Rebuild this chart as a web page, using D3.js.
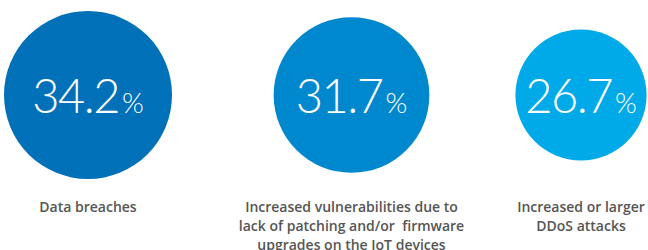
<!DOCTYPE html>
<html><head><meta charset="utf-8">
<script src="https://cdn.jsdelivr.net/npm/d3@7"></script>
<style>body{margin:0;background:#fff}svg{display:block}</style>
</head><body>
<svg id="c" width="648" height="250"></svg>
<script>
const categories = ["Data breaches", "Increased vulnerabilities due to|lack of patching and/or  firmware|upgrades on the IoT devices", "Increased or larger|DDoS attacks"];
const values = [34.2, 31.7, 26.7];
const colors = ["#0070b8", "#0088ce", "#00aae8"];

const svg = d3.select("#c");
const xs = [88, 351.5, 581];
const r = d3.scaleLinear().domain([0, 34.2]).range([0, 84]);
const cy = 95;

const g = svg.selectAll("g.item").data(values).join("g").attr("class","item")
  .attr("transform", (d,i) => `translate(${xs[i]},0)`);

g.append("circle").attr("cx",0).attr("cy",cy).attr("r", d => r(d)).attr("fill", (d,i)=>colors[i]);

const t = g.append("text").attr("y", cy+18).attr("text-anchor","middle")
  .attr("fill","#fff").style("font-family","Lato, 'Open Sans', sans-serif").style("font-weight",300);
t.append("tspan").attr("font-size",47).attr("letter-spacing",-1.5).text(d => d.toFixed(1));
t.append("tspan").attr("font-size",28).attr("dx",3).text("%");

g.each(function(d,i){
  const lines = categories[i].split("|");
  const tx = d3.select(this).append("text").attr("text-anchor","middle").attr("fill","#555")
    .style("font-family","'Open Sans', sans-serif").style("font-size","14px").style("font-weight",600);
  lines.forEach((l,j)=> tx.append("tspan").attr("x",0).attr("y",212 + j*19).style("white-space","pre").text(l));
});
</script>
</body></html>
